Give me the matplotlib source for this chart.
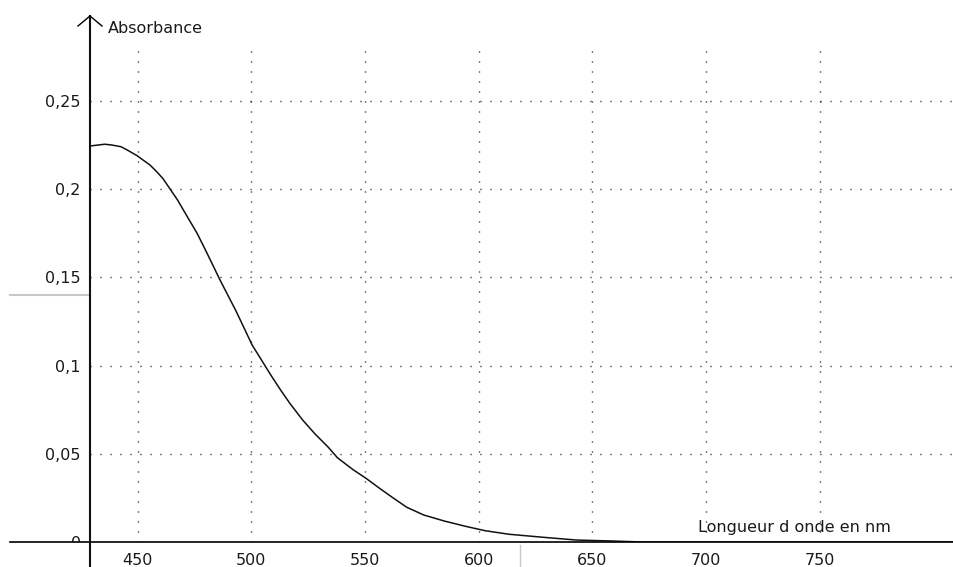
import numpy as np
import matplotlib
matplotlib.use("Agg")
import matplotlib.pyplot as plt
from matplotlib.transforms import Bbox, TransformedBbox

# spectre : longueur d'onde (nm) / absorbance
wavelength = [429.1, 435.5, 438.3, 442.6, 445.4, 449.7, 452.6, 455.4, 458.2, 461.1,
              464.0, 467.5, 471.8, 476.1, 479.6, 483.2, 486.0, 489.6, 493.2, 496.7,
              500.3, 504.5, 508.6, 512.8, 516.9, 522.5, 528.0, 533.6, 537.8, 544.7,
              550.3, 556.3, 562.3, 568.3, 575.8, 584.8, 593.8, 602.8, 613.2, 628.1,
              643.0, 657.9, 672.0, 809.0]
absorbance = [0.2245, 0.2255, 0.2251, 0.2241, 0.2222, 0.2190, 0.2163, 0.2137, 0.2101, 0.2060,
              0.2005, 0.1939, 0.1844, 0.1750, 0.1660, 0.1565, 0.1490, 0.1400, 0.1310, 0.1215,
              0.1117, 0.1030, 0.0945, 0.0862, 0.0786, 0.0692, 0.0612, 0.0540, 0.0478, 0.0410,
              0.0362, 0.0305, 0.0250, 0.0197, 0.0153, 0.0119, 0.0090, 0.0064, 0.0044, 0.0027,
              0.0011, 0.0006, 0.0, 0.0]

xticks = [450, 500, 550, 600, 650, 700, 750]
yticks = [0.05, 0.1, 0.15, 0.2, 0.25]
ytick_labels = ["0,05", "0,1", "0,15", "0,2", "0,25"]
xmin, xmax = 429, 809
ymin, ymax = 0, 0.3

plt.rcParams["font.family"] = ["DejaVu Sans"]
plt.rcParams["lines.scale_dashes"] = False
fs = 11.5
txt_col = "#1a1a1a"

fig = plt.figure(figsize=(9.54, 5.67), dpi=100)
ax = fig.add_axes([90 / 954, 25 / 567, 864 / 954, 529.2 / 567])
ax.set_xlim(xmin, xmax)
ax.set_ylim(ymin, ymax)
for s in ax.spines.values():
    s.set_visible(False)

dots = (0, (0.72, 6.48))
ax.hlines(yticks, xmin, xmax, colors="black", linewidth=1.0, linestyles=[dots])
ax.vlines(xticks, 0, 0.28, colors="black", linewidth=1.0, linestyles=[dots])

ax.plot(wavelength, absorbance, color="#111111", linewidth=1.1, zorder=3)

ax.set_xticks(xticks)
ax.set_xticklabels([str(v) for v in xticks])
ax.set_yticks(yticks)
ax.set_yticklabels(ytick_labels)
ax.tick_params(length=0, labelsize=fs, colors=txt_col)
ax.tick_params(axis="x", pad=8)
ax.tick_params(axis="y", pad=7)

# axes drawn by hand (x axis goes past the y axis, y axis has an arrow)
px_x = (xmax - xmin) / 864
px_y = (ymax - ymin) / 529.2
ax.plot([xmin - 80 * px_x, xmax], [0, 0], color="black", lw=1.2, clip_on=False, zorder=4)
top = (542 - 16) * px_y
ax.plot([xmin, xmin], [-25 * px_y, top], color="#111111", lw=1.5, clip_on=False, zorder=4)
ax.plot([xmin - 12 * px_x, xmin, xmin + 12 * px_x], [top - 10 * px_y, top, top - 10 * px_y],
        color="black", lw=1.0, clip_on=False, zorder=4)

# "0" mostly hidden under the x axis
t0 = ax.text(xmin - 9 * px_x, -2 * px_y, "0", ha="right", va="center", fontsize=fs, color=txt_col)
t0.set_clip_box(TransformedBbox(Bbox([[xmin - 40 * px_x, 0], [xmin, 0.02]]), ax.transData))
t0.set_clip_on(True)

ax.text(xmin + 18 * px_x, (542 - 33) * px_y, "Absorbance", ha="left", va="baseline",
        fontsize=fs, color=txt_col)
ax.text(xmin + 608 * px_x, (542 - 532) * px_y, "Longueur d onde en nm", ha="left",
        va="baseline", fontsize=fs, color=txt_col)

# light grey marks left on the screenshot
ax.plot([xmin - 80 * px_x, xmin], [(542 - 295) * px_y] * 2, color="#c8c8c8", lw=1.5,
        clip_on=False, zorder=1)
ax.plot([xmin + 430 * px_x] * 2, [-25 * px_y, -3 * px_y], color="#c8c8c8", lw=1.0,
        clip_on=False, zorder=1)

fig.savefig("out.png", dpi=100)
